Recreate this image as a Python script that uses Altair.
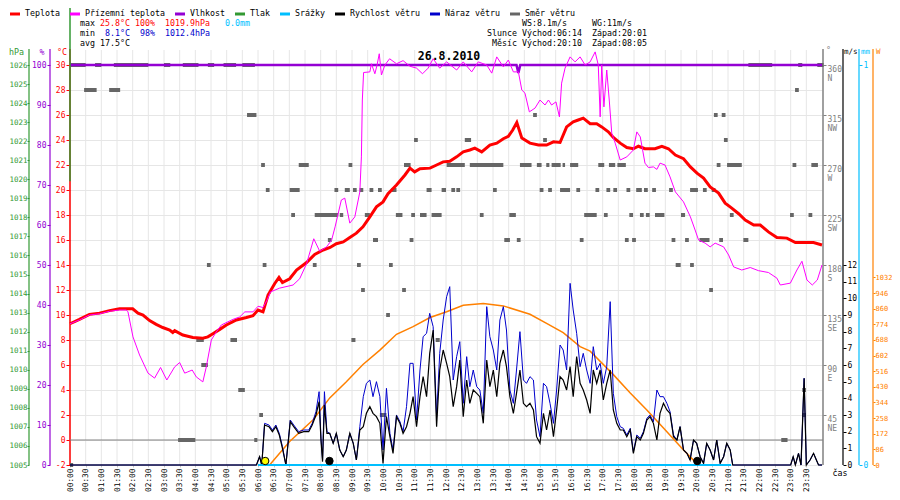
import altair as alt
import pandas as pd

FONT = "DejaVu Sans Mono"
RED, MAGENTA, PURPLE, GREEN = "#ff0000", "#ff00ff", "#9400d3", "#339933"
CYAN, BLUE, GRAY, ORANGE, AXGRAY = "#00bfff", "#0000cc", "#666666", "#ff8000", "#808080"

# ---------------- data ----------------
X_TICKS = [0, 0.5, 1, 1.5, 2, 2.5, 3, 3.5, 4, 4.5, 5, 5.5, 6, 6.5, 7, 7.5, 8, 8.5,
           9, 9.5, 10, 10.5, 11, 11.5, 12, 12.5, 13, 13.5, 14, 14.5, 15, 15.5, 16,
           16.5, 17, 17.5, 18, 18.5, 19, 19.5, 20, 20.5, 21, 21.5, 22, 22.5, 23, 23.5]

TEMP_H = [0.00, 0.30, 0.62, 0.94, 1.26, 1.58, 1.80, 2.00, 2.17, 2.33,
          2.54, 2.75, 2.96, 3.18, 3.28, 3.34, 3.60, 3.92, 4.24, 4.40,
          4.56, 4.78, 4.99, 5.31, 5.63, 5.84, 6.00, 6.16, 6.32, 6.53,
          6.67, 6.78, 7.01, 7.23, 7.55, 7.81, 8.08, 8.30, 8.50, 8.72,
          8.93, 9.14, 9.35, 9.57, 9.78, 9.99, 10.15, 10.42, 10.69, 10.85,
          11.00, 11.17, 11.49, 11.70, 11.91, 12.12, 12.34, 12.55, 12.76, 12.92,
          13.14, 13.40, 13.62, 13.83, 13.99, 14.13, 14.26, 14.42, 14.68, 14.95,
          15.21, 15.43, 15.64, 15.85, 16.06, 16.22, 16.38, 16.60, 16.81, 16.97,
          17.18, 17.34, 17.56, 17.77, 17.98, 18.14, 18.35, 18.67, 18.89, 19.10,
          19.32, 19.58, 19.80, 20.01, 20.22, 20.43, 20.70, 20.91, 21.12, 21.34,
          21.55, 21.82, 22.03, 22.29, 22.56, 22.88, 23.15, 23.52, 23.73, 24.00]
TEMP_V = [9.3, 9.65, 10.05, 10.15, 10.35, 10.5, 10.5, 10.5, 10.15, 10.0,
          9.55, 9.25, 9.0, 8.8, 8.6, 8.75, 8.4, 8.2, 8.15, 8.25,
          8.5, 8.85, 9.2, 9.6, 9.8, 9.95, 10.4, 10.25, 11.6, 12.5,
          13.0, 12.6, 12.9, 13.6, 14.2, 14.85, 15.2, 15.4, 15.7, 15.85,
          16.2, 16.55, 17.05, 17.85, 18.65, 19.05, 19.7, 20.4, 21.2, 21.75,
          21.45, 21.7, 21.75, 22.0, 22.25, 22.3, 22.65, 23.05, 23.2, 23.35,
          23.05, 23.6, 23.75, 24.1, 24.3, 24.8, 25.4, 24.15, 23.75, 23.6,
          23.6, 23.85, 23.8, 25.05, 25.45, 25.6, 25.75, 25.3, 25.3, 25.05,
          24.65, 24.2, 23.75, 23.4, 23.3, 23.5, 23.3, 23.3, 23.5, 23.3,
          22.8, 22.5, 21.85, 21.35, 20.95, 20.25, 19.75, 18.95, 18.55, 18.1,
          17.6, 17.2, 17.2, 16.65, 16.2, 16.15, 15.8, 15.8, 15.8, 15.6]

GROUND_H = [0.00, 0.30, 0.62, 0.94, 1.26, 1.58, 1.80, 1.85, 2.01, 2.22,
            2.49, 2.70, 2.89, 3.09, 3.34, 3.50, 3.66, 3.76, 3.90, 4.03,
            4.24, 4.35, 4.51, 4.67, 4.83, 5.20, 5.42, 5.58, 5.84, 6.00,
            6.16, 6.29, 6.40, 6.69, 7.12, 7.33, 7.55, 7.78, 7.97, 8.19,
            8.35, 8.46, 8.66, 8.77, 8.93, 9.09, 9.25, 9.30, 9.33, 9.37,
            9.57, 9.62, 9.73, 9.80, 9.87, 9.94, 10.05, 10.20, 10.42, 10.63,
            10.85, 11.06, 11.25, 11.43, 11.59, 11.80, 12.02, 12.34, 12.55, 12.82,
            13.03, 13.30, 13.46, 13.62, 13.83, 13.99, 14.15, 14.31, 14.42, 14.52,
            14.66, 14.84, 15.00, 15.16, 15.27, 15.37, 15.51, 15.62, 15.69, 15.80,
            15.96, 16.12, 16.28, 16.44, 16.60, 16.76, 16.86, 16.92, 16.97, 17.04,
            17.13, 17.21, 17.29, 17.40, 17.56, 17.77, 17.98, 18.09, 18.20, 18.35,
            18.46, 18.62, 18.73, 18.83, 18.99, 19.15, 19.32, 19.58, 19.80, 19.95,
            20.06, 20.27, 20.43, 20.59, 20.86, 21.02, 21.18, 21.44, 21.71, 21.97,
            22.29, 22.56, 22.67, 22.99, 23.20, 23.36, 23.52, 23.69, 23.85, 24.00]
GROUND_V = [9.3, 9.6, 10.0, 10.1, 10.3, 10.4, 10.4, 10.25, 8.25, 6.8,
            5.35, 4.95, 5.8, 4.8, 5.85, 6.2, 5.35, 5.45, 5.6, 5.05,
            4.65, 5.85, 8.0, 8.65, 9.2, 9.65, 9.85, 10.25, 10.25, 10.7,
            10.6, 11.2, 11.85, 12.15, 12.4, 12.9, 14.1, 16.1, 15.1, 15.45,
            16.0, 17.05, 19.2, 19.35, 17.35, 17.85, 19.85, 22.65, 27.2, 29.4,
            29.45, 30.1, 29.3, 30.0, 30.9, 29.2, 30.0, 30.5, 30.1, 30.35,
            29.9, 29.75, 29.3, 29.75, 30.5, 29.75, 30.25, 29.6, 30.25, 29.45,
            30.25, 30.0, 29.35, 30.65, 29.85, 30.4, 29.45, 29.45, 28.0, 27.75,
            26.25, 26.55, 27.2, 26.8, 27.2, 26.8, 27.05, 25.85, 28.55, 29.75,
            30.65, 30.25, 30.65, 30.0, 30.25, 31.05, 30.0, 25.85, 30.0, 26.65,
            29.6, 27.2, 24.55, 23.75, 22.4, 22.65, 23.2, 24.65, 24.25, 22.15,
            21.8, 21.85, 21.65, 22.15, 22.0, 21.05, 19.85, 19.05, 17.85, 16.8,
            16.0, 15.75, 15.45, 15.75, 15.45, 14.8, 13.85, 13.6, 13.8, 13.55,
            13.4, 12.95, 12.4, 12.55, 13.6, 14.3, 12.8, 12.4, 12.8, 14.0]

HUM_H = [0.0, 14.25, 14.31, 14.37, 24.0]
HUM_V = [100, 100, 98, 100, 100]

PRESS_H = [0.0]
PRESS_FROM = [1019.9]
PRESS_TO = [1029.2]

RAIN_H = [6.0, 21.1]
RAIN_V = [0.0, 0.0]

SOLAR_H = [6.37, 7.01, 7.76, 8.29, 8.82, 9.35, 9.89, 10.42, 10.95, 11.49, 12.02,
           12.55, 13.19, 13.83, 14.68, 15.21, 15.74, 16.28, 16.60, 17.34, 17.88,
           18.41, 18.94, 19.58, 20.00, 20.05]
SOLAR_V = [0, 129, 249, 369, 458, 553, 632, 719, 761, 811, 843,
           879, 888, 875, 829, 779, 728, 651, 626, 497, 396,
           302, 203, 83, 9, 0]

WIND_H = [0.00, 5.95, 6.05, 6.12, 6.21, 6.35, 6.46, 6.57, 6.68, 6.78,
          6.89, 7.03, 7.14, 7.30, 7.46, 7.62, 7.73, 7.85, 7.95, 8.01,
          8.06, 8.12, 8.20,
          8.29, 8.40, 8.50, 8.61, 8.72, 8.82, 8.93, 9.04, 9.14, 9.25,
          9.36, 9.46, 9.57, 9.67, 9.78, 9.89, 9.99, 10.10, 10.21, 10.31,
          10.42, 10.53, 10.63, 10.74, 10.85, 10.95, 11.06, 11.17, 11.27, 11.38,
          11.48, 11.59, 11.70, 11.80, 11.91, 12.02, 12.12, 12.23, 12.34, 12.44,
          12.55, 12.66, 12.76, 12.87, 12.98, 13.08, 13.19, 13.30, 13.40, 13.51,
          13.62, 13.72, 13.83, 13.93, 14.04, 14.15, 14.25, 14.36, 14.47, 14.57,
          14.68, 14.79, 14.89, 15.00, 15.11, 15.21, 15.32, 15.43, 15.53, 15.64,
          15.74, 15.85, 15.96, 16.06, 16.17, 16.28, 16.38, 16.49, 16.60, 16.70,
          16.81, 16.92, 17.02, 17.13, 17.24, 17.34, 17.45, 17.56, 17.66, 17.77,
          17.88, 17.98, 18.09, 18.20, 18.30, 18.41, 18.51, 18.62, 18.73, 18.83,
          18.94, 19.05, 19.15, 19.26, 19.37, 19.47, 19.58, 19.69, 19.79, 19.90,
          20.00, 20.11, 20.22, 20.32, 20.43, 20.54, 20.64, 20.75, 20.86, 20.96,
          21.07,
          21.15, 23.00, 23.08, 23.15, 23.25, 23.33, 23.43, 23.50, 23.62, 23.73,
          23.82, 23.89, 24.00]
WIND_V = [0, 0, 0.5, 0, 2.4, 2.3, 2.0, 2.3, 1.8, 1.0,
          0, 2.6, 2.3, 1.9, 2.0, 2.0, 2.4, 3.0, 3.8, 1.5,
          0.2, 3.6, 1.9,
          1.9, 1.3, 1.9, 0.9, 0.5, 0.9, 1.9, 1.3, 0.3, 2.1,
          2.3, 3.1, 3.5, 3.1, 2.9, 2.5, 0.1, 2.9, 1.7, 0.7,
          2.9, 2.5, 1.9, 2.3, 3.1, 4.1, 2.3, 4.1, 5.3, 4.1,
          6.7, 8.1, 2.3, 5.7, 6.9, 6.1, 5.3, 3.5, 4.7, 6.3,
          2.9, 5.1, 3.7, 4.5, 4.3, 4.1, 2.5, 6.3, 4.7, 5.7,
          4.1, 6.1, 6.9, 5.9, 4.1, 3.1, 4.3, 5.7, 3.7, 3.5,
          3.7, 3.3, 1.7, 1.3, 3.1, 2.1, 3.3, 1.7, 3.3, 5.3,
          5.1, 4.5, 5.9, 4.1, 6.5, 4.9, 4.5, 3.9, 3.1, 5.7,
          4.9, 5.7, 3.9, 4.9, 5.7, 3.3, 2.5, 2.1, 2.1, 1.7,
          2.1, 0.7, 1.7, 1.5, 1.9, 2.7, 2.9, 2.5, 1.5, 3.1,
          3.7, 3.3, 3.1, 1.7, 1.5, 2.3, 0.9, 0.7, 0.3, 1.5,
          1.3, 0.5, 0.1, 1.3, 0.9, 0.3, 1.5, 0.1, 0.5, 1.3,
          0.9,
          0, 0, 0.5, 0, 0.7, 0, 5.2, 0, 0.3, 0.7,
          0.3, 0, 0]
GUST_V = [0, 0, 0.5, 0, 2.5, 2.4, 2.1, 2.4, 1.9, 1.1,
          0, 2.7, 2.4, 2.0, 2.1, 2.1, 2.5, 3.2, 4.4, 1.6,
          0.3, 4.4, 2.0,
          1.9, 1.3, 1.9, 0.9, 0.5, 0.9, 1.9, 1.3, 0.3, 2.3,
          4.1, 4.9, 5.1, 4.1, 5.0, 4.1, 0.9, 4.6, 1.9, 0.9,
          3.0, 2.6, 2.0, 3.5, 6.1, 6.1, 2.7, 5.7, 7.7, 7.9,
          9.1, 8.3, 2.9, 6.7, 8.7, 10.1, 10.7, 5.1, 6.5, 7.4,
          3.7, 6.5, 4.7, 5.7, 4.7, 4.5, 3.1, 9.5, 7.7, 6.9,
          5.7, 8.7, 9.5, 8.1, 4.5, 3.7, 5.7, 8.0, 5.1, 4.9,
          5.3, 5.1, 2.7, 1.7, 4.9, 4.7, 3.7, 2.5, 4.5, 7.2,
          6.9, 5.7, 10.9, 9.3, 7.9, 5.9, 6.7, 5.7, 4.9, 7.1,
          5.7, 6.1, 4.9, 5.9, 9.8, 4.3, 2.9, 2.3, 2.2, 1.8,
          2.2, 0.8, 1.8, 1.6, 2.0, 2.8, 3.0, 2.6, 4.5, 4.1,
          4.1, 3.7, 3.2, 1.8, 1.5, 2.3, 0.9, 0.7, 0.3, 1.5,
          1.3, 0.5, 0.1, 1.3, 0.9, 0.3, 1.5, 0.1, 0.5, 1.3,
          0.9,
          0, 0, 0.5, 0, 0.7, 0, 5.2, 0, 0.3, 0.7,
          0.3, 0, 0]

# wind direction: runs of samples (start hour, end hour) per compass direction
DIR_0 = [(0.00, 0.10)]
DIR_22_5 = [(3.45, 4.00), (5.88, 5.98), (22.70, 22.90)]
DIR_45 = [(6.04, 6.16), (9.89, 10.10), (23.37, 23.49)]
DIR_67_5 = [(5.37, 5.58), (23.37, 23.49)]
DIR_90 = [(4.19, 4.40)]
DIR_112_5 = [(4.03, 4.27), (5.12, 5.33), (8.98, 9.11), (11.67, 11.80)]
DIR_135 = [(10.09, 10.21)]
DIR_157_5 = [(9.29, 9.41), (10.60, 10.72), (20.40, 20.52)]
DIR_180 = [(4.37, 4.49), (6.15, 6.27), (7.75, 7.87), (9.16, 9.28), (10.18, 10.30),
           (19.33, 19.49), (19.79, 19.91)]
DIR_202_5 = [(8.23, 8.35), (9.67, 9.83), (10.84, 10.96), (13.86, 14.04), (14.26, 14.38),
             (16.27, 16.39), (17.71, 17.83), (17.94, 18.06), (19.20, 19.32), (19.63, 19.75),
             (20.09, 20.41), (20.72, 20.84), (21.49, 21.65)]
DIR_225 = [(7.06, 7.18), (7.81, 8.56), (8.61, 8.72), (9.41, 9.57), (10.40, 10.61),
           (10.89, 11.01), (11.17, 11.38), (11.54, 11.86), (13.08, 13.20), (14.02, 14.23),
           (16.41, 16.81), (17.04, 17.16), (17.85, 17.97), (18.19, 18.31), (18.38, 18.50),
           (18.67, 18.97), (19.50, 19.63), (21.06, 21.18), (22.98, 23.10), (23.57, 23.69)]
DIR_247_5 = [(6.25, 6.37), (7.01, 7.33), (8.44, 8.56), (8.77, 8.93), (9.03, 9.15),
             (9.24, 9.36), (9.56, 9.68), (9.83, 9.95), (10.26, 10.42), (11.38, 11.54),
             (11.86, 12.00), (12.17, 12.29), (12.33, 12.45), (13.50, 13.62), (14.99, 15.11),
             (15.26, 15.38), (15.64, 15.96), (16.16, 16.28), (16.77, 16.89), (17.12, 17.24),
             (17.34, 17.46), (17.76, 17.88), (18.07, 18.25), (18.32, 18.44), (18.58, 18.70),
             (19.12, 19.24), (19.79, 20.04), (20.20, 20.32), (20.48, 20.60)]
DIR_270 = [(6.10, 6.22), (7.30, 7.62), (8.89, 9.01), (10.66, 10.87), (12.02, 12.60),
           (12.76, 13.83), (14.36, 14.73), (14.90, 15.05), (15.20, 15.30), (15.37, 15.66),
           (15.72, 15.80), (15.96, 16.22), (16.86, 17.05), (17.20, 17.40), (17.47, 17.74),
           (20.64, 20.76), (20.97, 21.44), (23.06, 23.18), (23.66, 23.87)]
DIR_292_5 = [(10.98, 11.10), (12.60, 12.80), (15.10, 15.22), (20.87, 20.99)]
DIR_315 = [(5.65, 5.95), (14.78, 14.90), (20.55, 20.67), (20.80, 20.92)]
DIR_337_5 = [(0.45, 0.85), (1.25, 1.60), (23.14, 23.26)]
DIR_360 = [(0.00, 0.50), (0.80, 1.00), (1.40, 2.50), (3.00, 3.20), (3.60, 4.10),
           (4.40, 4.60), (4.90, 5.30), (5.50, 5.90), (21.65, 22.41), (23.24, 23.37),
           (23.85, 24.05)]

EVENT_H = [6.23, 8.28, 20.02]
EVENT_KIND = ["sun", "moon", "moon"]

LEGEND_NAMES = ["Teplota", "Přízemní teplota", "Vlhkost", "Tlak", "Srážky",
                "Rychlost větru", "Náraz větru", "Směr větru"]
LEGEND_COLORS = [RED, MAGENTA, PURPLE, GREEN, CYAN, "#000000", BLUE, GRAY]

T_MAX, T_MIN, T_AVG = 25.8, 8.1, 17.5
H_MAX, H_MIN = 100, 98
P_MAX, P_MIN = 1019.9, 1012.4
RAIN_SUM = 0.0
WS_MAX, WG_MAX = 8.1, 11
SUN_RISE, SUN_SET = "06:14", "20:01"
MOON_RISE, MOON_SET = "20:10", "08:05"
DATE = "26.8.2010"

W_LABELS = [0, 86, 172, 258, 344, 430, 516, 602, 688, 774, 860, 946, 1032]
DIR_LABELS = [45, 90, 135, 180, 225, 270, 315, 360]

# layout (page pixels) of the hand-drawn legend entries
LEGEND_SLOTS = [10, 70, 175, 235, 280, 335, 430, 510]
LEGEND_ROW_Y = 14


# ---------------- helpers ----------------
def frame(**cols):
    n = min(len(v) for v in cols.values())
    return pd.DataFrame({k: list(v)[:n] for k, v in cols.items()})


def px(x):
    return x - 70


def py(y):
    return y - 65


ONE = pd.DataFrame({"k": [0]})
PLAIN = "'' + datum.value"

XS = alt.Scale(domain=[0, 24], nice=False, zero=False)
X_AXIS = alt.Axis(values=X_TICKS, title=None, grid=False, domain=False,
                  labelExpr="(datum.value < 10 ? '0' : '') + floor(datum.value) + ':' + (datum.value % 1 > 0 ? '30' : '00')",
                  labelAngle=270, labelFont=FONT, labelFontSize=7.8, labelColor="black",
                  labelPadding=1, tickSize=2, tickColor="#c8c8c8", labelFlush=False,
                  labelOverlap=False)


def xq(field="h"):
    return alt.X(f"{field}:Q", scale=XS, axis=X_AXIS)


def sc(lo, hi):
    return alt.Scale(domain=[lo, hi], nice=False, zero=False)


TS = sc(-2, 30)
HS = sc(0, 100)
PS = sc(1005, 1026)
DS = sc(0, 360)
WS = sc(0, 24)
RS = sc(0, 1)
SS = sc(0, 2200)


def yaxis(orient, offset, values, color, size=8, tick=3, pad=1, expr=PLAIN, **kw):
    return alt.Axis(orient=orient, offset=offset, values=values, title=None, domain=False,
                    labelColor=color, tickColor=color, tickSize=tick, labelPadding=pad,
                    labelFont=FONT, labelFontSize=size, labelFlush=False,
                    labelOverlap=False, labelExpr=expr, **kw)


def txt(s, x, y, color="black", align="left", size=8.3, weight="normal"):
    return alt.Chart(ONE).mark_text(text=s, align=align, baseline="middle", font=FONT,
                                    fontSize=size, fontWeight=weight, color=color).encode(
        x=alt.value(px(x)), y=alt.value(py(y)))


def vline(x, color, width=1.0, top=49, bottom=465):
    return alt.Chart(ONE).mark_rule(color=color, strokeWidth=width).encode(
        x=alt.value(px(x)), y=alt.value(py(top)), y2=alt.value(py(bottom)))


def hline(x1, x2, y, color, width=3.0):
    return alt.Chart(ONE).mark_rule(color=color, strokeWidth=width).encode(
        x=alt.value(px(x1)), x2=alt.value(px(x2)), y=alt.value(py(y)))


# ---------------- layers ----------------
layers = []

# vertical half-hour grid (extends up into the header)
layers.append(alt.Chart(frame(h=X_TICKS)).mark_rule(color="#e6e6e6", strokeWidth=1).encode(
    x=xq("h"), y=alt.value(-15), y2=alt.value(400)))

# axis lines
for xx, col, wd in [(29, GREEN, 1.2), (50, PURPLE, 1.2), (70, RED, 1.5), (823, AXGRAY, 1.5),
                    (843, "#000000", 1.2), (859, CYAN, 1.2), (873, ORANGE, 1.2)]:
    layers.append(vline(xx, col, wd))

# zero degree line
layers.append(alt.Chart(frame(v=[0])).mark_rule(color=AXGRAY, strokeWidth=1).encode(
    y=alt.Y("v:Q", scale=TS, axis=None), x=alt.value(0), x2=alt.value(753)))

# wind direction
dir_groups = [(0, DIR_0), (22.5, DIR_22_5), (45, DIR_45), (67.5, DIR_67_5), (90, DIR_90),
              (112.5, DIR_112_5), (135, DIR_135), (157.5, DIR_157_5), (180, DIR_180),
              (202.5, DIR_202_5), (225, DIR_225), (247.5, DIR_247_5), (270, DIR_270),
              (292.5, DIR_292_5), (315, DIR_315), (337.5, DIR_337_5), (360, DIR_360)]
dir_a, dir_b, dir_d = [], [], []
for d, runs in dir_groups:
    for a, b in runs:
        dir_a.append(a)
        dir_b.append(b)
        dir_d.append(d)
dir_label = ("[datum.label, datum.value == 45 ? 'NE' : datum.value == 90 ? 'E' : "
             "datum.value == 135 ? 'SE' : datum.value == 180 ? 'S' : datum.value == 225 ? 'SW' : "
             "datum.value == 270 ? 'W' : datum.value == 315 ? 'NW' : 'N']")
layers.append(alt.Chart(frame(a=dir_a, b=dir_b, d=dir_d)).mark_rule(
    color=GRAY, strokeWidth=4, strokeCap="butt").encode(
    x=xq("a"), x2="b:Q",
    y=alt.Y("d:Q", scale=DS, axis=yaxis("right", 1, DIR_LABELS, AXGRAY, expr=dir_label,
                                         labelLineHeight=9, labelOffset=4))))

# humidity
layers.append(alt.Chart(frame(h=HUM_H, v=HUM_V)).mark_line(color=PURPLE, strokeWidth=2.5).encode(
    x=xq(), y=alt.Y("v:Q", scale=HS, axis=yaxis("left", 20, list(range(0, 101, 10)), PURPLE))))

# pressure
layers.append(alt.Chart(frame(h=PRESS_H, a=PRESS_FROM, b=PRESS_TO)).mark_rule(
    color=GREEN, strokeWidth=1.5).encode(
    x=xq(), y=alt.Y("a:Q", scale=PS, axis=yaxis("left", 41, list(range(1005, 1027)), GREEN,
                                                 size=7.5, tick=2, pad=0)), y2="b:Q"))

# temperature
layers.append(alt.Chart(frame(h=TEMP_H, v=TEMP_V)).mark_line(color=RED, strokeWidth=3).encode(
    x=xq(), y=alt.Y("v:Q", scale=TS, axis=yaxis("left", 0, list(range(-2, 31, 2)), RED, tick=4,
                                                grid=True, gridColor="#e6e6e6"))))

# ground temperature
layers.append(alt.Chart(frame(h=GROUND_H, v=GROUND_V)).mark_line(color=MAGENTA, strokeWidth=1).encode(
    x=xq(), y=alt.Y("v:Q", scale=TS, axis=None)))

# solar radiation
layers.append(alt.Chart(frame(h=SOLAR_H, v=SOLAR_V)).mark_line(color=ORANGE, strokeWidth=1.5).encode(
    x=xq(), y=alt.Y("v:Q", scale=SS, axis=yaxis("right", 51, W_LABELS, ORANGE, size=7,
                                                 tick=2, pad=0))))

# gusts and wind speed
layers.append(alt.Chart(frame(h=WIND_H, v=GUST_V)).mark_line(color=BLUE, strokeWidth=1).encode(
    x=xq(), y=alt.Y("v:Q", scale=WS, axis=None)))
layers.append(alt.Chart(frame(h=WIND_H, v=WIND_V)).mark_line(color="#000000", strokeWidth=1.2).encode(
    x=xq(), y=alt.Y("v:Q", scale=WS, axis=yaxis("right", 21, list(range(0, 13)), "#000000"))))

# precipitation
layers.append(alt.Chart(frame(h=RAIN_H, v=RAIN_V)).mark_line(color=CYAN, strokeWidth=2).encode(
    x=xq(), y=alt.Y("v:Q", scale=RS, axis=yaxis("right", 37, [0, 1], CYAN))))

# sun / moon events
layers.append(alt.Chart(frame(h=EVENT_H, kind=EVENT_KIND)).mark_point(
    filled=True, size=55, stroke="black", strokeWidth=1, opacity=1).encode(
    x=xq(), y=alt.value(py(461)),
    fill=alt.Fill("kind:N", scale=alt.Scale(domain=["sun", "moon"], range=["#ffff00", "#000000"]),
                  legend=None)))

# legend row
for slot, name, col in zip(LEGEND_SLOTS, LEGEND_NAMES, LEGEND_COLORS):
    layers.append(hline(slot, slot + 10, LEGEND_ROW_Y, col))
    layers.append(txt(name, slot + 15, LEGEND_ROW_Y))

# header texts
layers += [
    txt("max", 80, 24), txt(f"{T_MAX}°C", 100, 24, RED), txt(f"{H_MAX}%", 135, 24, RED),
    txt(f"{P_MAX}hPa", 165, 24, RED), txt(f"{RAIN_SUM}mm", 225, 24, CYAN),
    txt("min", 80, 34), txt(f"{T_MIN}°C", 105, 34, BLUE), txt(f"{H_MIN}%", 140, 34, BLUE),
    txt(f"{P_MIN}hPa", 165, 34, BLUE),
    txt(f"avg {T_AVG}°C", 80, 44),
    txt(f"WS:{WS_MAX}m/s", 522, 24), txt(f"WG:{WG_MAX}m/s", 592, 24),
    txt("Slunce", 517, 34, align="right"), txt(f"Východ:{SUN_RISE}", 522, 34),
    txt(f"Západ:{SUN_SET}", 592, 34),
    txt("Měsíc", 517, 44, align="right"), txt(f"Východ:{MOON_RISE}", 522, 44),
    txt(f"Západ:{MOON_SET}", 592, 44),
    txt(DATE, 449, 57, align="center", size=11.5, weight="bold"),
    # axis titles
    txt("hPa", 9, 53, GREEN), txt("%", 42, 53, PURPLE, align="center"),
    txt("°C", 62, 53, RED, align="center"), txt("°", 826, 51, AXGRAY),
    txt("m/s", 844, 52, size=7.5), txt("mm", 861, 52, CYAN, size=7.5),
    txt("W", 876, 52, ORANGE, size=7.5),
    txt("čas", 840, 474, align="center"),
]

chart = alt.layer(*layers).resolve_scale(y="independent").properties(
    width=752, height=400,
    padding={"left": 62, "top": 57, "right": 70, "bottom": 27},
    autosize=alt.AutoSizeParams(type="none"),
    background="white",
).configure_view(stroke=None).configure_axis(labelFont=FONT)

chart.save("out.html", embed_options={"renderer": "svg", "actions": False})
